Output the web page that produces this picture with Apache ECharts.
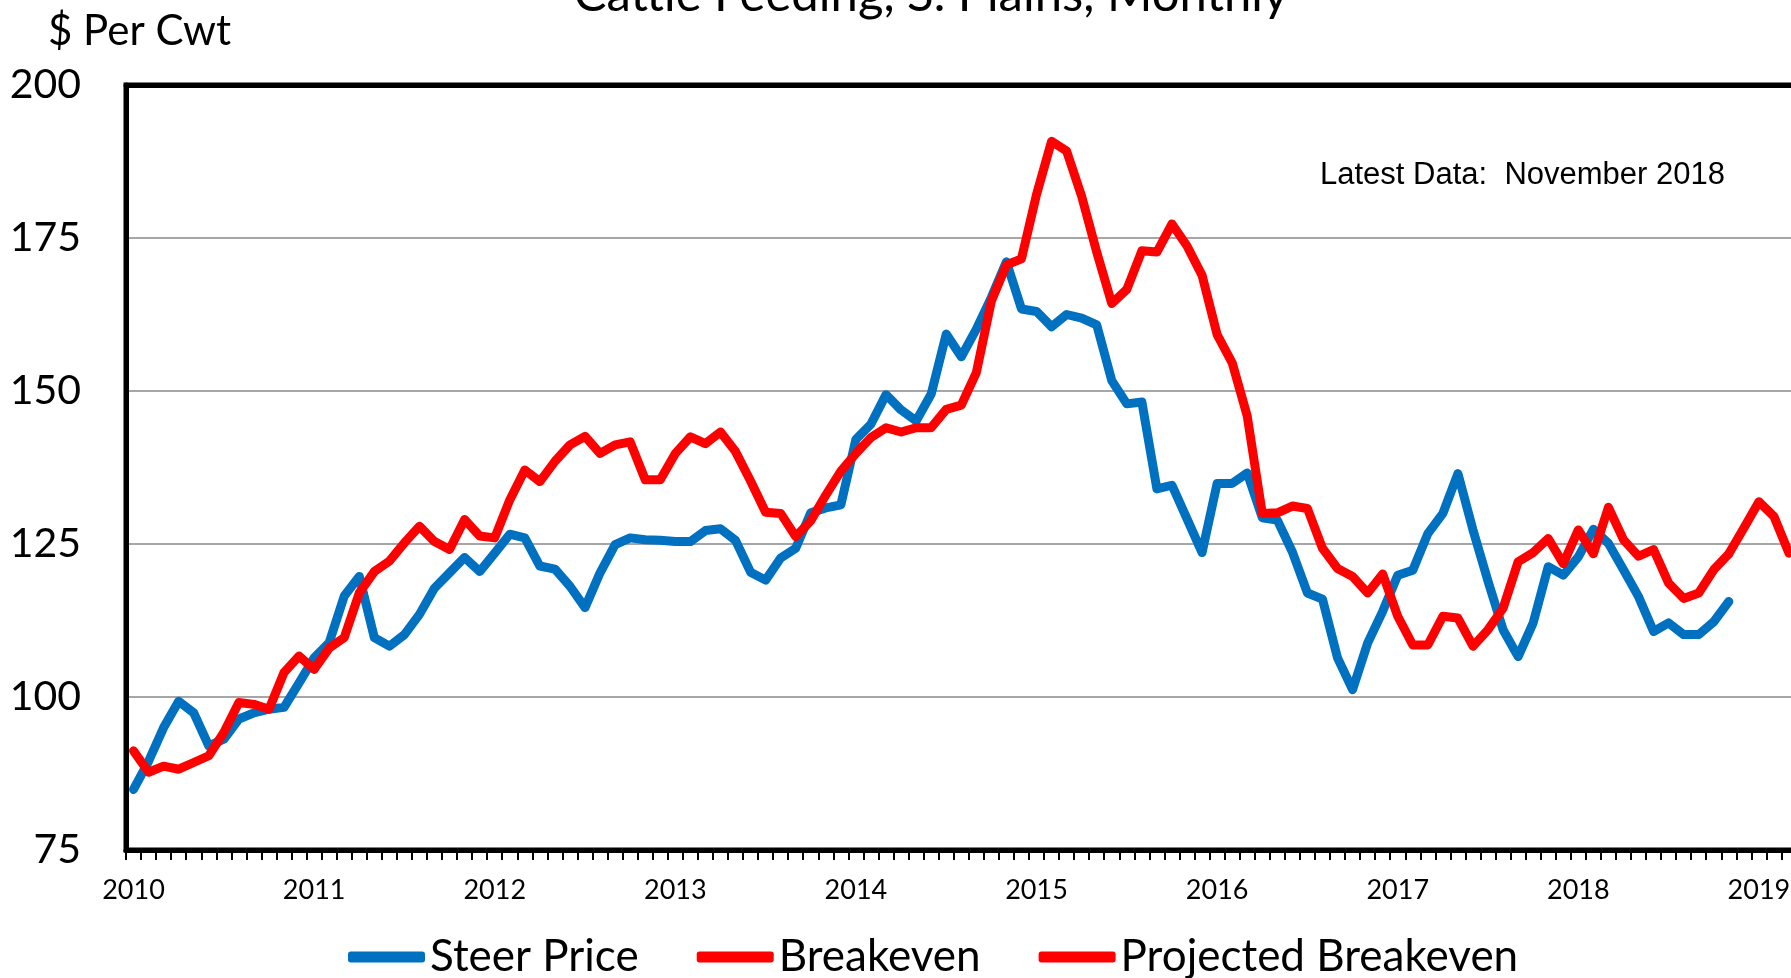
<!DOCTYPE html>
<html>
<head>
<meta charset="utf-8">
<title>Cattle Feeding, S. Plains, Monthly</title>
<script src="https://cdn.jsdelivr.net/npm/echarts/dist/echarts.min.js"></script>
<style>
  html, body { margin: 0; padding: 0; background: #fff; }
  #chart { width: 1791px; height: 978px; }
</style>
</head>
<body>
<div id="chart"></div>
<script>
  // x axis: monthly, Jan 2010 .. Dec 2019
  let years = ['2010', '2011', '2012', '2013', '2014', '2015', '2016', '2017', '2018', '2019'];
  let monthNames = ['Jan', 'Feb', 'Mar', 'Apr', 'May', 'Jun', 'Jul', 'Aug', 'Sep', 'Oct', 'Nov', 'Dec'];

  // $ per cwt, Jan 2010 .. Nov 2018
  let steerPrice = [
    84.9, 89.5, 95.0, 99.3, 97.4, 92.0, 93.1, 96.4, 97.4, 98.0, 98.3, 102.3,
    106.4, 108.9, 116.5, 119.7, 109.7, 108.3, 110.2, 113.5, 117.8, 120.3, 122.8, 120.5,
    123.5, 126.6, 126.0, 121.4, 120.9, 118.1, 114.6, 120.3, 124.9, 126.0, 125.7, 125.6,
    125.4, 125.4, 127.2, 127.5, 125.6, 120.4, 119.1, 122.7, 124.3, 130.1, 130.9, 131.4,
    142.1, 144.6, 149.4, 146.9, 145.1, 149.5, 159.3, 155.6, 160.1, 165.3, 171.1, 163.4,
    163.0, 160.5, 162.5, 161.9, 160.8, 151.7, 147.9, 148.2, 134.0, 134.6, 129.1, 123.6,
    134.9, 134.9, 136.6, 129.3, 128.9, 123.7, 117.0, 116.0, 106.4, 101.2, 108.8, 114.0,
    119.9, 120.7, 126.7, 130.0, 136.5, 127.3, 118.9, 111.0, 106.6, 112.1, 121.3, 119.9,
    122.9, 127.4, 125.1, 120.8, 116.4, 110.7, 112.1, 110.2, 110.2, 112.3, 115.6
  ];

  let breakeven = [
    91.2, 87.7, 88.7, 88.2, 89.3, 90.4, 94.2, 99.1, 98.8, 98.0, 104.0, 106.7,
    104.5, 108.0, 109.7, 117.0, 120.5, 122.2, 125.2, 127.9, 125.4, 124.1, 129.0, 126.3,
    126.0, 132.2, 137.1, 135.2, 138.5, 141.2, 142.6, 139.8, 141.2, 141.7, 135.5, 135.5,
    139.8, 142.5, 141.4, 143.3, 140.1, 135.3, 130.2, 130.0, 126.2, 128.8, 133.0, 136.9,
    139.8, 142.4, 144.0, 143.3, 144.0, 144.0, 147.0, 147.7, 153.0, 164.7, 170.6, 171.6,
    182.1, 190.8, 189.2, 181.8, 172.7, 164.3, 166.6, 172.9, 172.7, 177.3, 173.7, 168.9,
    159.2, 154.6, 145.9, 130.0, 130.1, 131.2, 130.8, 124.3, 121.0, 119.7, 117.0, 120.1,
    113.2, 108.5, 108.5, 113.2, 112.9, 108.3, 111.0, 114.5, 122.1, 123.6, 125.9, 121.8,
    127.3, 123.4, 131.0, 125.7, 123.0, 124.1, 118.6, 116.1, 117.0, 120.8, 123.4
  ];

  // projection starts at the last actual month (Nov 2018)
  let projectedStart = 106;
  let projectedBreakeven = [123.4, 127.6, 131.9, 129.5, 123.5];

  let categories = [];
  years.forEach(function (y) {
    monthNames.forEach(function (m) {
      categories.push(m + ' ' + y);
    });
  });

  let projected = [];
  for (let i = 0; i < projectedStart; i++) projected.push(null);
  projected = projected.concat(projectedBreakeven);

  let blue = '#0070C0';
  let red = '#FF0000';
  let calibriLike = 'Lato, "Open Sans", sans-serif';

  let myChart = echarts.init(document.getElementById('chart'), null, {renderer: 'canvas'});

  let lineStyle = function (color) {
    return {color: color, width: 9, cap: 'round', join: 'round'};
  };

  myChart.setOption({
    animation: false,
    backgroundColor: '#fff',
    textStyle: {fontFamily: calibriLike, color: '#000'},
    grid: {
      left: 126,
      top: 85,
      width: 1806,   // plot runs past the right edge of the picture
      height: 765,
      outerBoundsMode: 'none',
      containLabel: false,
      show: true,
      borderColor: '#000',
      borderWidth: 5,
      backgroundColor: 'transparent'
    },
    legend: {
      data: ['Steer Price', 'Breakeven', 'Projected Breakeven'],
      left: 348,
      top: 935,
      padding: 0,
      itemGap: 58,
      itemWidth: 77,
      itemHeight: 11,
      icon: 'roundRect',
      textStyle: {fontFamily: calibriLike, fontSize: 44, color: '#000'}
    },
    xAxis: [
      {
        type: 'category',
        data: categories,
        boundaryGap: true,
        axisLine: {lineStyle: {color: '#000', width: 5}},
        axisTick: {show: true, interval: 0, length: 10, lineStyle: {color: '#000', width: 2}},
        axisLabel: {
          interval: function (index) { return index % 12 === 0; },
          formatter: function (value) { return value.split(' ')[1]; },
          fontFamily: calibriLike,
          fontSize: 27,
          color: '#000',
          margin: 27
        },
        splitLine: {show: false}
      },
      {
        // thick frame line along the top of the plot
        type: 'category',
        position: 'top',
        data: categories,
        z: 5,
        axisLine: {lineStyle: {color: '#000', width: 5}},
        axisTick: {show: false},
        axisLabel: {show: false},
        splitLine: {show: false}
      }
    ],
    yAxis: {
      type: 'value',
      min: 75,
      max: 200,
      interval: 25,
      axisLine: {show: true, lineStyle: {color: '#000', width: 5}},
      axisTick: {show: false},
      axisLabel: {fontFamily: calibriLike, fontSize: 41, color: '#000', margin: 45},
      splitLine: {lineStyle: {color: '#A6A6A6', width: 2}}
    },
    graphic: [
      {
        type: 'text',
        style: {
          text: 'Cattle Feeding, S. Plains, Monthly',
          x: 931,
          y: -5,
          align: 'center',
          verticalAlign: 'middle',
          fontFamily: calibriLike,
          fontSize: 49,
          fill: '#000'
        }
      },
      {
        type: 'text',
        style: {
          text: '$ Per Cwt',
          x: 48,
          y: 31,
          verticalAlign: 'middle',
          fontFamily: calibriLike,
          fontSize: 42,
          fill: '#000'
        }
      },
      {
        type: 'text',
        style: {
          text: 'Latest Data:  November 2018',
          x: 1320,
          y: 175,
          verticalAlign: 'middle',
          fontFamily: '"Liberation Sans", Arial, sans-serif',
          fontSize: 31,
          fill: '#000'
        }
      }
    ],
    series: [
      {
        name: 'Steer Price',
        type: 'line',
        data: steerPrice,
        symbol: 'none',
        itemStyle: {color: blue},
        lineStyle: lineStyle(blue),
        z: 2
      },
      {
        name: 'Breakeven',
        type: 'line',
        data: breakeven,
        symbol: 'none',
        itemStyle: {color: red},
        lineStyle: lineStyle(red),
        z: 3
      },
      {
        name: 'Projected Breakeven',
        type: 'line',
        data: projected,
        symbol: 'none',
        itemStyle: {color: red},
        lineStyle: lineStyle(red),
        z: 3
      }
    ]
  });
</script>
</body>
</html>
